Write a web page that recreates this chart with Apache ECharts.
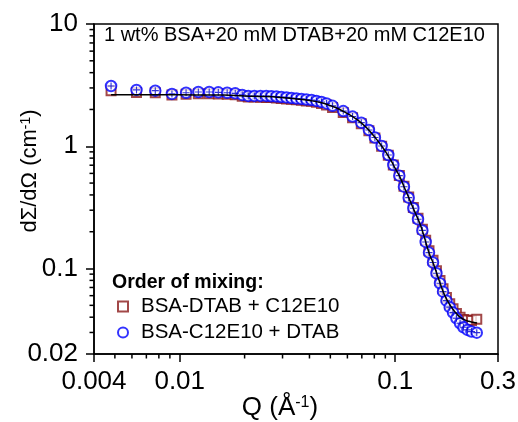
<!DOCTYPE html>
<html>
<head>
<meta charset="utf-8">
<script src="https://cdn.jsdelivr.net/npm/echarts@6/dist/echarts.min.js"></script>
<style>
html, body { margin: 0; padding: 0; background: #fff; }
.layer { position: absolute; left: 0; top: 0; width: 518px; height: 422px; }
</style>
</head>
<body>
<div id="axes" class="layer"></div>
<div id="ticks" class="layer"></div>
<div id="chart" class="layer"></div>
<script>
"use strict";

// Q values (1/A) shared by both samples
const q = [0.0048, 0.0063, 0.0077, 0.0092, 0.0107, 0.0122, 0.0137, 0.0151, 0.0166, 0.0181,
           0.0195, 0.0208, 0.0222, 0.0237, 0.0252, 0.0266, 0.0281, 0.0296, 0.0313, 0.0330,
           0.0348, 0.0367, 0.0387, 0.0409, 0.0431, 0.0455, 0.0480, 0.0512, 0.0574, 0.0634,
           0.0696, 0.0755, 0.0805, 0.0865, 0.0929, 0.0980, 0.1045, 0.1098, 0.1155, 0.1214,
           0.1276, 0.1337, 0.1385, 0.1435, 0.1498, 0.1554, 0.1614, 0.1667, 0.1729, 0.1791,
           0.1855, 0.1924, 0.2000, 0.2074, 0.2165, 0.2260, 0.2391];

// BSA-DTAB + C12E10 (squares)
const bsaDtab = [2.85, 2.75, 2.74, 2.62, 2.66, 2.69, 2.69, 2.68, 2.66, 2.64,
                 2.57, 2.53, 2.53, 2.52, 2.51, 2.50, 2.48, 2.46, 2.44, 2.42,
                 2.40, 2.38, 2.35, 2.33, 2.29, 2.24, 2.18, 2.08, 1.89, 1.71,
                 1.53, 1.34, 1.17, 1.00, 0.845, 0.703, 0.578, 0.470, 0.384, 0.316,
                 0.258, 0.210, 0.170, 0.140, 0.117, 0.0960, 0.0800, 0.0685, 0.0580, 0.0515,
                 0.0470, 0.0428, 0.0400, 0.0383, 0.0380, 0.0375, 0.0385];

// BSA-C12E10 + DTAB (circles)
const bsaC12 = [3.11, 2.89, 2.85, 2.68, 2.74, 2.78, 2.78, 2.76, 2.74, 2.71,
                2.63, 2.58, 2.58, 2.58, 2.58, 2.56, 2.55, 2.53, 2.51, 2.48,
                2.46, 2.44, 2.41, 2.39, 2.35, 2.30, 2.24, 2.14, 1.94, 1.75,
                1.56, 1.36, 1.18, 1.006, 0.849, 0.703, 0.575, 0.467, 0.380, 0.311,
                0.253, 0.205, 0.165, 0.135, 0.112, 0.0915, 0.0758, 0.0647, 0.0546, 0.0483,
                0.0436, 0.0392, 0.0357, 0.0331, 0.0315, 0.0305, 0.0299];

// model fit
const fitQ = [0.0048, 0.008, 0.012, 0.016, 0.02, 0.025, 0.03, 0.035, 0.04, 0.045,
              0.05, 0.055, 0.06, 0.065, 0.07, 0.075, 0.08, 0.085, 0.09, 0.095,
              0.1, 0.105, 0.11, 0.115, 0.12, 0.125, 0.13, 0.135, 0.14, 0.145,
              0.15, 0.16, 0.17, 0.18, 0.19, 0.2, 0.21, 0.22, 0.23, 0.24];
const fitI = [2.64, 2.64, 2.63, 2.62, 2.58, 2.55, 2.50, 2.44, 2.37, 2.28,
              2.15, 2.01, 1.85, 1.70, 1.54, 1.37, 1.20, 1.05, 0.91, 0.78,
              0.66, 0.565, 0.465, 0.388, 0.325, 0.275, 0.235, 0.193, 0.155, 0.128,
              0.111, 0.080, 0.060, 0.050, 0.044, 0.040, 0.038, 0.037, 0.0363, 0.0358];

const xRange = [0.004, 0.3];
const yRange = [0.02, 10];
const xMinor = [0.005, 0.006, 0.007, 0.008, 0.009, 0.02, 0.03, 0.04, 0.05, 0.06, 0.07, 0.08, 0.09, 0.2];
const yMinor = [0.03, 0.04, 0.05, 0.06, 0.07, 0.08, 0.09, 0.2, 0.3, 0.4, 0.5, 0.6, 0.7, 0.8, 0.9,
                2, 3, 4, 5, 6, 7, 8, 9];

const font = "'Liberation Sans', Arial, sans-serif";
const black = { color: '#000', width: 1.5 };
const gridBox = { left: 94, right: 20, top: 24, bottom: 68 };

function paint(c) {
    c.getZr().storage.getDisplayList(true);
    c.getZr().refreshImmediately();
}

const hiddenAxis = (range) => ({
    type: 'log', logBase: 10, min: range[0], max: range[1],
    axisLine: { show: false }, axisTick: { show: false }, axisLabel: { show: false },
    minorTick: { show: false }, splitLine: { show: false }
});

// minor log ticks, placed through the axes' own scales
function minorTicks(isX) {
    return function (params, api) {
        const p = api.coord([api.value(0), api.value(1)]);
        const len = 4.5;
        return {
            type: 'line',
            shape: isX
                ? { x1: p[0], y1: p[1], x2: p[0], y2: p[1] + len }
                : { x1: p[0], y1: p[1], x2: p[0] - len, y2: p[1] },
            style: { stroke: '#000', lineWidth: 1.5 }
        };
    };
}

// layer 1: frame, axes, major ticks, tick labels
const axesChart = echarts.init(document.getElementById('axes'), null, { renderer: 'canvas' });
axesChart.setOption({
    backgroundColor: '#fff',
    animation: false,
    textStyle: { fontFamily: font },
    grid: Object.assign({ show: true, borderColor: '#000', borderWidth: 1.5, outerBoundsMode: 'none' }, gridBox),
    xAxis: {
        type: 'log', logBase: 10, min: xRange[0], max: xRange[1],
        axisLine: { lineStyle: black },
        axisTick: { show: true, length: 8, lineStyle: black },
        axisLabel: { fontSize: 26, color: '#000', margin: 15 },
        minorTick: { show: false },
        splitLine: { show: false }
    },
    yAxis: {
        type: 'log', logBase: 10, min: yRange[0], max: yRange[1],
        axisLine: { lineStyle: black },
        axisTick: { show: true, length: 8, lineStyle: black },
        axisLabel: { fontSize: 26, color: '#000', margin: 16 },
        minorTick: { show: false },
        splitLine: { show: false }
    },
    series: [{ type: 'scatter', symbolSize: 0, data: [[0.01, 1]] }]
});
paint(axesChart);

// layer 2: minor ticks
const tickChart = echarts.init(document.getElementById('ticks'), null, { renderer: 'canvas' });
tickChart.setOption({
    backgroundColor: 'transparent',
    animation: false,
    grid: Object.assign({ show: false, outerBoundsMode: 'none' }, gridBox),
    xAxis: hiddenAxis(xRange),
    yAxis: hiddenAxis(yRange),
    series: [
        { type: 'custom', clip: false, silent: true, renderItem: minorTicks(true), data: xMinor.map(v => [v, yRange[0]]) },
        { type: 'custom', clip: false, silent: true, renderItem: minorTicks(false), data: yMinor.map(v => [xRange[0], v]) }
    ]
});
paint(tickChart);

// layer 3: data, texts, legend (transparent, same scales)
const chart = echarts.init(document.getElementById('chart'), null, { renderer: 'canvas' });
chart.setOption({
    backgroundColor: 'transparent',
    animation: false,
    textStyle: { fontFamily: font },
    title: [
        {
            text: '1 wt% BSA+20 mM DTAB+20 mM C12E10',
            left: 104, top: 25, padding: 0,
            textStyle: { fontFamily: font, fontSize: 20, fontWeight: 'normal', color: '#000' }
        },
        {
            text: 'Order of mixing:',
            left: 112, top: 273, padding: 0,
            textStyle: { fontFamily: font, fontSize: 19.5, fontWeight: 'bold', color: '#000' }
        }
    ],
    graphic: [
        {
            type: 'text', x: 280, y: 408, silent: true,
            style: {
                text: 'Q (Å{sup|-1})', fontFamily: font, fontSize: 26, fill: '#000',
                align: 'center', verticalAlign: 'middle',
                rich: { sup: { fontFamily: font, fontSize: 16, verticalAlign: 'top', fill: '#000' } }
            }
        },
        {
            type: 'text', x: 30, y: 171, rotation: Math.PI / 2, silent: true,
            style: {
                text: 'dΣ/dΩ (cm{sup|-1})', fontFamily: font, fontSize: 22, fill: '#000',
                align: 'center', verticalAlign: 'middle',
                rich: { sup: { fontFamily: font, fontSize: 14, verticalAlign: 'top', fill: '#000' } }
            }
        }
    ],
    legend: {
        orient: 'vertical',
        left: 117, top: 296,
        padding: 0,
        itemWidth: 10, itemHeight: 10, itemGap: 5,
        textStyle: { fontFamily: font, fontSize: 20.5, color: '#000', padding: [0, 0, 0, 8] },
        data: ['BSA-DTAB + C12E10', 'BSA-C12E10 + DTAB']
    },
    grid: Object.assign({ show: false, outerBoundsMode: 'none' }, gridBox),
    xAxis: hiddenAxis(xRange),
    yAxis: hiddenAxis(yRange),
    series: [
        {
            name: 'BSA-DTAB + C12E10',
            type: 'scatter',
            symbol: 'emptyRect', symbolSize: 9,
            itemStyle: { color: '#8b1a1a', borderWidth: 1.2 },
            data: q.map((x, i) => [x, bsaDtab[i]])
        },
        {
            name: 'fit',
            type: 'line',
            showSymbol: false, smooth: true,
            lineStyle: { color: '#000', width: 1.5 },
            data: fitQ.map((x, i) => [x, fitI[i]])
        },
        {
            name: 'BSA-C12E10 + DTAB',
            type: 'scatter',
            symbol: 'emptyCircle', symbolSize: 10.5,
            itemStyle: { color: '#0000ff', borderWidth: 1.3 },
            data: q.map((x, i) => [x, bsaC12[i]])
        },
        {
            name: 'err',
            type: 'scatter',
            symbol: 'path://M4.2,0h1.6v10h-1.6z M0,4.2h10v1.6h-10z',
            symbolSize: 7,
            itemStyle: { color: '#0000cc' },
            data: q.map((x, i) => [x, bsaC12[i]])
        }
    ]
});
paint(chart);
</script>
</body>
</html>
